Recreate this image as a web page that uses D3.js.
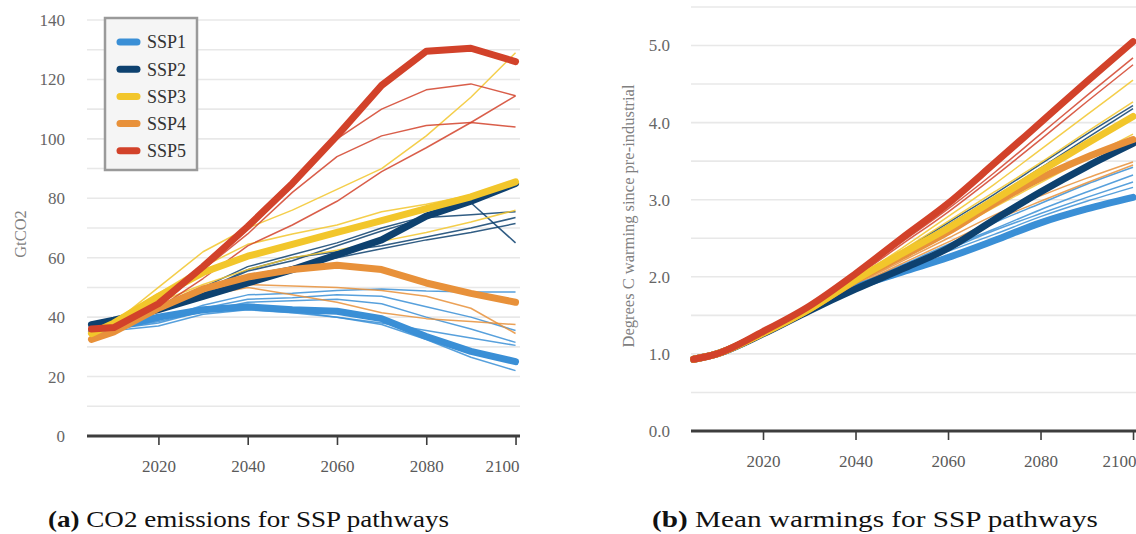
<!DOCTYPE html>
<html>
<head>
<meta charset="utf-8">
<script src="https://cdn.jsdelivr.net/npm/d3@7"></script>
<style>
  html, body { margin: 0; padding: 0; background: #ffffff; }
  svg { display: block; }
  text { font-family: "Liberation Serif", "Times New Roman", serif; }
</style>
</head>
<body>
<svg id="chart" width="1136" height="534"></svg>
<script>
// ---- data ----------------------------------------------------------------
const years = [2005, 2010, 2020, 2030, 2040, 2050, 2060, 2070, 2080, 2090, 2100];
const xTicks = [2020, 2040, 2060, 2080, 2100];
const scenarios = ["SSP1", "SSP2", "SSP3", "SSP4", "SSP5"];
const colors = ["#3a8fd6", "#0d416f", "#f2c62b", "#e8913a", "#d2422a"];

// CO2 emissions (GtCO2): marker pathway per scenario
const co2Marker = [
  [35, 36.5, 40, 42.5, 43.5, 42.5, 42, 39.5, 33.5, 28.5, 25],
  [37.5, 39, 42.5, 47, 51.5, 56, 61, 66, 74, 79, 85],
  [34.5, 38, 47, 55, 60.5, 64.5, 68.5, 72.5, 76.5, 80.5, 85.5],
  [32.5, 35, 43, 49.5, 53.5, 56, 57.5, 56, 51.5, 48, 45],
  [36, 36.5, 44.5, 57, 70.5, 85, 101, 118, 129.5, 130.5, 126]
];
// CO2 emissions (GtCO2): other model runs per scenario
const co2Other = [
  [
    [35, 36, 39, 44, 47.5, 48, 49, 49.5, 48.8, 48.5, 48.5],
    [35, 36, 38.5, 42, 44, 42, 40, 37.5, 32.5, 26.5, 22],
    [35, 36, 39, 43, 46, 46.5, 47.5, 47, 43.5, 40, 35.5],
    [35, 36, 38, 42, 45, 45.5, 46, 44.5, 40, 36, 31.5],
    [35, 35.5, 37, 41, 42.5, 41.5, 40, 38, 35.5, 33, 30.5]
  ],
  [
    [37.5, 39, 43, 50, 57, 61, 65, 70, 74, 78.5, 65],
    [37.5, 39, 43, 49, 55.5, 59, 64, 69, 73.5, 74.5, 75.5],
    [37.5, 38.5, 42, 48, 54, 57, 60, 63, 66, 68.5, 71.5],
    [37.5, 38.5, 42, 49, 56, 60, 62, 64, 67, 70, 73.5]
  ],
  [
    [34.5, 38, 50, 62, 70, 76, 83, 90, 101, 114, 129],
    [34.5, 38, 48, 57, 64.5, 68, 71, 75.5, 78, 81, 85],
    [34.5, 37, 45, 51, 56, 60, 62.5, 65.5, 68.5, 72, 76]
  ],
  [
    [32.5, 35, 42, 48, 51, 50.5, 50, 49, 47, 43, 34.5],
    [32.5, 35, 42, 47, 50, 47.5, 45, 41.5, 39.5, 38.5, 37.5]
  ],
  [
    [36, 37, 45, 57, 70, 86, 100, 110, 116.5, 118.5, 114.5],
    [36, 37, 44, 56, 68, 82, 94, 101, 104.5, 105.5, 104],
    [36, 37, 43, 53, 64, 71, 79, 89, 97, 105.5, 114.5]
  ]
];

// Mean warming (degrees C above pre-industrial): marker pathway per scenario
const warmMarker = [
  [0.93, 1.0, 1.27, 1.57, 1.86, 2.06, 2.25, 2.47, 2.7, 2.88, 3.03],
  [0.93, 1.0, 1.26, 1.56, 1.84, 2.1, 2.37, 2.74, 3.1, 3.43, 3.73],
  [0.93, 1.0, 1.27, 1.58, 1.96, 2.3, 2.63, 3.0, 3.37, 3.73, 4.08],
  [0.93, 1.0, 1.27, 1.58, 1.95, 2.26, 2.58, 2.95, 3.28, 3.55, 3.78],
  [0.93, 1.0, 1.29, 1.62, 2.04, 2.5, 2.95, 3.47, 4.0, 4.53, 5.05]
];
// Mean warming: other model runs per scenario
const warmOther = [
  [
    [0.93, 1.0, 1.27, 1.57, 1.88, 2.15, 2.42, 2.7, 2.95, 3.2, 3.42],
    [0.93, 1.0, 1.27, 1.57, 1.86, 2.12, 2.38, 2.62, 2.87, 3.1, 3.32],
    [0.93, 1.0, 1.27, 1.56, 1.85, 2.1, 2.33, 2.55, 2.78, 2.98, 3.16],
    [0.93, 1.0, 1.27, 1.56, 1.84, 2.08, 2.35, 2.6, 2.82, 3.03, 3.23]
  ],
  [
    [0.93, 1.0, 1.28, 1.6, 1.97, 2.33, 2.7, 3.07, 3.46, 3.85, 4.22],
    [0.93, 1.0, 1.28, 1.6, 1.96, 2.31, 2.67, 3.03, 3.41, 3.8, 4.18]
  ],
  [
    [0.93, 1.0, 1.28, 1.6, 1.98, 2.37, 2.78, 3.2, 3.65, 4.1, 4.55],
    [0.93, 1.0, 1.28, 1.6, 1.97, 2.34, 2.72, 3.1, 3.48, 3.88, 4.27],
    [0.93, 1.0, 1.27, 1.58, 1.93, 2.25, 2.57, 2.9, 3.22, 3.54, 3.85]
  ],
  [
    [0.93, 1.0, 1.27, 1.57, 1.9, 2.2, 2.5, 2.8, 3.05, 3.28, 3.49],
    [0.93, 1.0, 1.27, 1.57, 1.88, 2.17, 2.45, 2.73, 2.98, 3.22, 3.45]
  ],
  [
    [0.93, 1.0, 1.29, 1.62, 2.02, 2.45, 2.88, 3.35, 3.85, 4.35, 4.84],
    [0.93, 1.0, 1.29, 1.61, 2.0, 2.42, 2.84, 3.3, 3.78, 4.27, 4.75]
  ]
];

const co2Ticks = [0, 20, 40, 60, 80, 100, 120, 140];
const co2Grid = d3.range(10, 141, 10);
const warmTicks = [0, 1, 2, 3, 4, 5];
const warmGrid = d3.range(0.5, 5.51, 0.5);

// ---- drawing -------------------------------------------------------------
const svg = d3.select("#chart");

function panel(opts) {
  const g = svg.append("g");
  const x = d3.scaleLinear().domain(opts.xDomain).range(opts.xRange);
  const y = d3.scaleLinear().domain(opts.yDomain).range(opts.yRange);
  const [x0, x1] = opts.xRange;

  // horizontal gridlines
  g.append("g").selectAll("line").data(opts.grid).join("line")
    .attr("x1", x0).attr("x2", x1)
    .attr("y1", d => y(d)).attr("y2", d => y(d))
    .attr("stroke", "#e8e8e8").attr("stroke-width", 1.6);

  // y tick labels
  g.append("g").selectAll("text").data(opts.yTicks).join("text")
    .attr("x", opts.yLabelX).attr("y", d => y(d))
    .attr("dy", "0.35em").attr("text-anchor", "end")
    .attr("font-size", 17).attr("fill", "#666")
    .text(opts.yFormat);

  // y axis title
  g.append("text")
    .attr("transform", `translate(${opts.titleX},${opts.titleY}) rotate(-90)`)
    .attr("text-anchor", "middle").attr("dy", "0.35em")
    .attr("font-size", 16.5).attr("fill", "#808080")
    .text(opts.title);

  // bottom axis
  const axis = g.append("g").attr("transform", `translate(0,${y(0)})`)
    .call(d3.axisBottom(x).tickValues(xTicks).tickFormat(d3.format("d"))
      .tickSize(9).tickPadding(15));
  axis.select(".domain").attr("stroke", "#3d3d3d").attr("stroke-width", 3.2)
    .attr("d", `M${x0},0H${x1}`);
  axis.selectAll(".tick line").attr("stroke", "#3d3d3d").attr("stroke-width", 1.6);
  axis.selectAll(".tick text")
    .attr("font-size", 17).attr("fill", "#5a5a5a");
  // keep the last year label inside the plot's right edge
  axis.selectAll(".tick").filter(d => d === xTicks[xTicks.length - 1])
    .select("text").attr("text-anchor", "end").attr("x", x1 - x(xTicks[xTicks.length - 1]) - 1);

  const line = d3.line().x((d, i) => x(years[i])).y(d => y(d))
    .curve(opts.curve || d3.curveLinear);

  // other runs (thin) then marker pathway (thick)
  const order = [0, 1, 3, 2, 4];
  order.forEach(s => {
    opts.other[s].forEach(run => {
      g.append("path").attr("d", line(run))
        .attr("fill", "none").attr("stroke", colors[s])
        .attr("stroke-width", 1.5).attr("stroke-opacity", 0.85)
        .attr("stroke-linejoin", "round");
    });
  });
  order.forEach(s => {
    g.append("path").attr("d", line(opts.marker[s]))
      .attr("fill", "none").attr("stroke", colors[s])
      .attr("stroke-width", 7).attr("stroke-linecap", "round")
      .attr("stroke-linejoin", "round");
  });
  return g;
}

panel({
  xDomain: [2004, 2101], xRange: [87, 520],
  yDomain: [0, 140], yRange: [436, 20],
  grid: co2Grid, yTicks: co2Ticks, yLabelX: 65, yFormat: d3.format("d"),
  title: "GtCO2", titleX: 20, titleY: 234,
  marker: co2Marker, other: co2Other
});

panel({
  xDomain: [2004.43, 2100.86], xRange: [691, 1137],
  yDomain: [0, 5.5], yRange: [431, 6.95],
  grid: warmGrid, yTicks: warmTicks, yLabelX: 670, yFormat: d3.format(".1f"),
  title: "Degrees C warming since pre-industrial", titleX: 628, titleY: 216,
  marker: warmMarker, other: warmOther, curve: d3.curveMonotoneX
});

// legend
const legend = svg.append("g");
legend.append("rect")
  .attr("x", 105).attr("y", 18).attr("width", 92).attr("height", 152)
  .attr("fill", "#f5f5f5").attr("stroke", "#9a9a9a").attr("stroke-width", 2.5);
scenarios.forEach((name, i) => {
  const cy = 42 + i * 27.2;
  legend.append("line")
    .attr("x1", 120).attr("x2", 137).attr("y1", cy).attr("y2", cy)
    .attr("stroke", colors[i]).attr("stroke-width", 7).attr("stroke-linecap", "round");
  legend.append("text")
    .attr("x", 147).attr("y", cy).attr("dy", "0.35em")
    .attr("font-size", 18).attr("fill", "#333")
    .text(name);
});

// sub-figure captions
function caption(left, width, tag, body) {
  const t = svg.append("text")
    .attr("x", left).attr("y", 527)
    .attr("font-size", 22.5).attr("fill", "#111")
    .attr("textLength", width).attr("lengthAdjust", "spacingAndGlyphs");
  t.append("tspan").attr("font-weight", "bold").text(tag);
  t.append("tspan").text(" " + body);
}
caption(48, 401, "(a)", "CO2 emissions for SSP pathways");
caption(652, 446, "(b)", "Mean warmings for SSP pathways");
</script>
</body>
</html>
